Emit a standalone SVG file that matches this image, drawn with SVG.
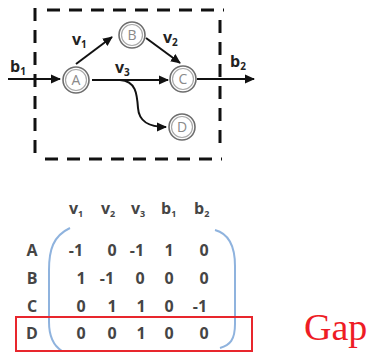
<svg xmlns="http://www.w3.org/2000/svg" width="374" height="355" viewBox="0 0 374 355">
  <defs>
    <marker id="arrow" viewBox="0 0 10 10" refX="9" refY="5" markerWidth="10" markerHeight="10" markerUnits="userSpaceOnUse" orient="auto">
      <path d="M0,0.5 L10,5 L0,9.5 Z" fill="#111"/>
    </marker>
    <style>
      .box { fill: none; stroke: #111; stroke-width: 3; stroke-dasharray: 13 9; }
      .edge { fill: none; stroke: #111; stroke-width: 2; marker-end: url(#arrow); }
      .ring-o { fill: #fff; stroke: #6e6e6e; stroke-width: 1.6; }
      .ring-i { fill: none; stroke: #a8a8a8; stroke-width: 1.2; }
      .nlabel { font-family: "Open Sans", "Liberation Sans", sans-serif; font-size: 14px; fill: #8a8a8a; text-anchor: middle; }
      .elabel { font-family: "Open Sans", "Liberation Sans", sans-serif; font-size: 16px; font-weight: bold; fill: #222; }
      .sub { font-size: 10px; }
      .mtx { font-family: "Open Sans", "Liberation Sans", sans-serif; font-size: 16px; font-weight: bold; fill: #454545; text-anchor: middle; }
      .hdr { font-family: "Open Sans", "Liberation Sans", sans-serif; font-size: 16px; font-weight: bold; fill: #454545; }
      .hsub { font-size: 9px; }
      .paren { fill: none; stroke: #8fb3de; stroke-width: 2; }
    </style>
  </defs>

  <!-- dashed system boundary -->
  <g id="boundary">
    <path class="box" d="M47,10 H224"/>
    <path class="box" d="M35,8 V162"/>
    <path class="box" d="M45,159 H222"/>
    <path class="box" d="M220,20 V152"/>
  </g>

  <!-- connectors -->
  <g id="connectors">
    <path class="edge" d="M8,79 H60"/>
    <path class="edge" d="M76,64 L112,37"/>
    <path class="edge" d="M146,38 L180,63"/>
    <path class="edge" d="M92,80 H168"/>
    <path class="edge" d="M120,80 C136,81 137,94 138,108 C139,122 149,127 166,127"/>
    <path class="edge" d="M197,79 H254"/>
  </g>

  <!-- edge labels -->
  <g id="edge-labels">
    <text class="elabel" x="10" y="72">b<tspan class="sub" dy="3">1</tspan></text>
    <text class="elabel" x="72" y="45">v<tspan class="sub" dy="3">1</tspan></text>
    <text class="elabel" x="163" y="43">v<tspan class="sub" dy="3">2</tspan></text>
    <text class="elabel" x="115" y="73">v<tspan class="sub" dy="3">3</tspan></text>
    <text class="elabel" x="230" y="67">b<tspan class="sub" dy="3">2</tspan></text>
  </g>

  <!-- nodes -->
  <g id="node-A">
    <circle class="ring-o" cx="76" cy="80" r="13"/>
    <circle class="ring-i" cx="76" cy="80" r="10.5"/>
    <text class="nlabel" x="76" y="85">A</text>
  </g>
  <g id="node-B">
    <circle class="ring-o" cx="132" cy="35" r="13"/>
    <circle class="ring-i" cx="132" cy="35" r="10.5"/>
    <text class="nlabel" x="132" y="40">B</text>
  </g>
  <g id="node-C">
    <circle class="ring-o" cx="183" cy="79" r="13"/>
    <circle class="ring-i" cx="183" cy="79" r="10.5"/>
    <text class="nlabel" x="183" y="84">C</text>
  </g>
  <g id="node-D">
    <circle class="ring-o" cx="182" cy="127" r="13"/>
    <circle class="ring-i" cx="182" cy="127" r="10.5"/>
    <text class="nlabel" x="182" y="132">D</text>
  </g>

  <!-- incidence matrix -->
  <g id="matrix">
    <g id="col-headers">
      <text class="hdr" x="69" y="214">v<tspan class="hsub" dy="3">1</tspan></text>
      <text class="hdr" x="101" y="214">v<tspan class="hsub" dy="3">2</tspan></text>
      <text class="hdr" x="131" y="214">v<tspan class="hsub" dy="3">3</tspan></text>
      <text class="hdr" x="161" y="214">b<tspan class="hsub" dy="3">1</tspan></text>
      <text class="hdr" x="194" y="214">b<tspan class="hsub" dy="3">2</tspan></text>
    </g>
    <g id="row-labels">
      <text class="mtx" x="32" y="256">A</text>
      <text class="mtx" x="32" y="284">B</text>
      <text class="mtx" x="32" y="312">C</text>
      <text class="mtx" x="32" y="339">D</text>
    </g>
    <path class="paren" d="M70,228 C53,236 49,250 49,270 L49,322 C49,338 54,346 62,351"/>
    <path class="paren" d="M215,230 C230,234 235,248 235,266 L235,324 C235,340 230,345 220,348"/>
    <g id="values">
      <text class="mtx" x="76" y="256">-1</text>
      <text class="mtx" x="112" y="256">0</text>
      <text class="mtx" x="137" y="256">-1</text>
      <text class="mtx" x="169" y="256">1</text>
      <text class="mtx" x="204" y="256">0</text>

      <text class="mtx" x="81" y="284">1</text>
      <text class="mtx" x="107" y="284">-1</text>
      <text class="mtx" x="140" y="284">0</text>
      <text class="mtx" x="169" y="284">0</text>
      <text class="mtx" x="204" y="284">0</text>

      <text class="mtx" x="81" y="312">0</text>
      <text class="mtx" x="112" y="312">1</text>
      <text class="mtx" x="141" y="312">1</text>
      <text class="mtx" x="169" y="312">0</text>
      <text class="mtx" x="200" y="312">-1</text>

      <text class="mtx" x="81" y="339">0</text>
      <text class="mtx" x="112" y="339">0</text>
      <text class="mtx" x="141" y="339">1</text>
      <text class="mtx" x="169" y="339">0</text>
      <text class="mtx" x="204" y="339">0</text>
    </g>
  </g>

  <!-- highlighted row -->
  <g id="gap">
    <rect x="16" y="317" width="236" height="34" fill="none" stroke="#e8262d" stroke-width="2"/>
    <text x="304" y="340" font-family="'Liberation Serif', serif" font-size="38" fill="#ee1c25">Gap</text>
  </g>
</svg>
